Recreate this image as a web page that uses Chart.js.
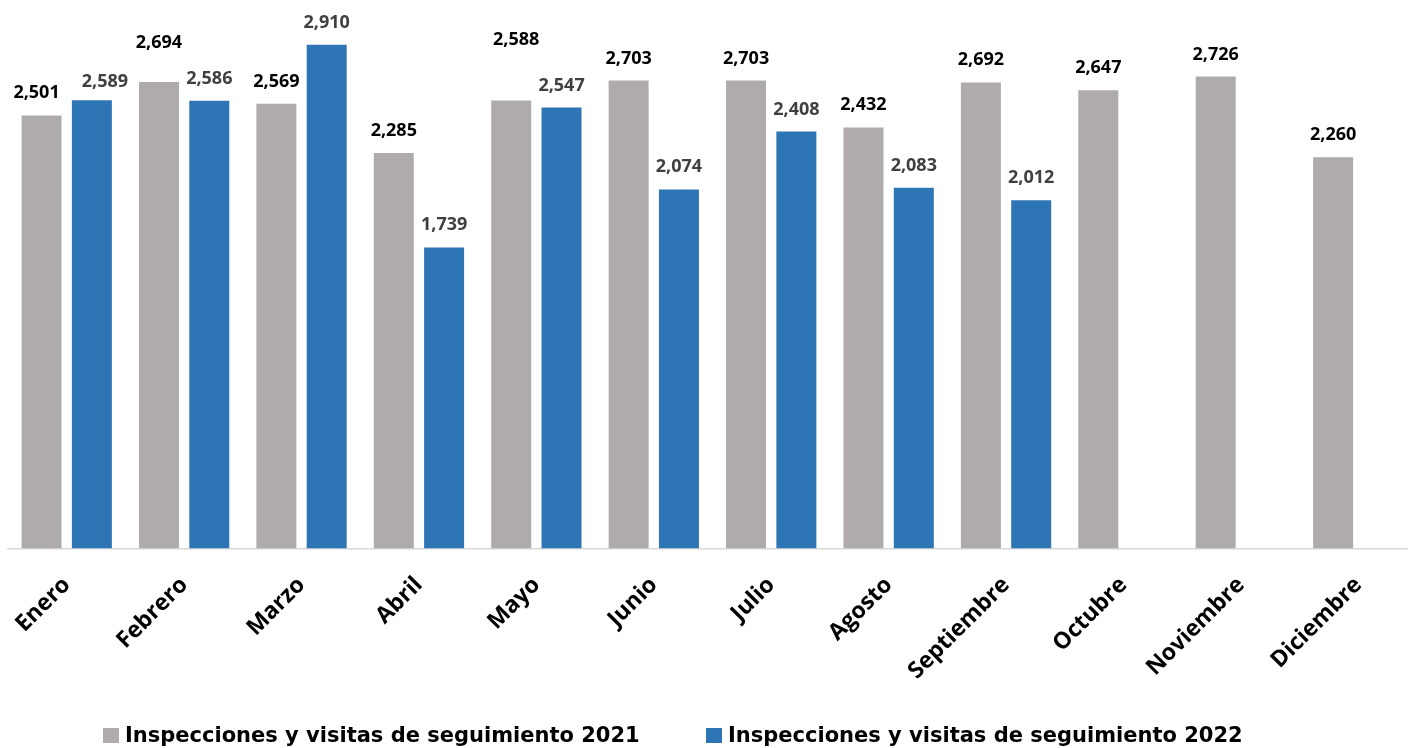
<!DOCTYPE html>
<html lang="es">
<head>
<meta charset="utf-8">
<title>Inspecciones y visitas de seguimiento</title>
<script src="https://cdn.jsdelivr.net/npm/chart.js@4.4.1/dist/chart.umd.min.js"></script>
<style>
  html, body { margin:0; padding:0; background:#fff; overflow:hidden; }
  #wrap { position:relative; width:1417px; height:748px; }
  #leyenda { position:absolute; top:0; left:0; font:bold 21px "DejaVu Sans", sans-serif; color:#000; white-space:nowrap; }
  #leyenda .item { position:absolute; top:721px; line-height:29px; }
  #leyenda i { display:inline-block; width:16px; height:15px; margin-right:6px; vertical-align:-1px; }
</style>
</head>
<body>
<div id="wrap">
  <canvas id="grafica"></canvas>
  <div id="leyenda"></div>
</div>
<script>
// datos
const meses = ['Enero','Febrero','Marzo','Abril','Mayo','Junio','Julio','Agosto','Septiembre','Octubre','Noviembre','Diciembre'];
const visitas2021 = [2501, 2694, 2569, 2285, 2588, 2703, 2703, 2432, 2692, 2647, 2726, 2260];
const visitas2022 = [2589, 2586, 2910, 1739, 2547, 2074, 2408, 2083, 2012, null, null, null];
const series = ['Inspecciones y visitas de seguimiento 2021', 'Inspecciones y visitas de seguimiento 2022'];

// ajustes de algunas etiquetas (serie-mes: dx, dy) como en el original
const ajusteEtiqueta = { '0-0':[-5,0], '1-0':[13,-3.5], '0-1':[0,17.5], '0-4':[5,38.5] };
const colorEtiqueta = ['#000000', '#404040'];
const xLeyenda = [103, 706];

const etiquetas = {
  id:'etiquetas',
  afterDatasetsDraw(chart){
    const ctx = chart.ctx;
    ctx.save();
    ctx.font = 'bold 18px "Open Sans", sans-serif';
    ctx.textAlign = 'center';
    ctx.textBaseline = 'alphabetic';
    chart.data.datasets.forEach((ds, i) => {
      ctx.fillStyle = colorEtiqueta[i];
      chart.getDatasetMeta(i).data.forEach((bar, j) => {
        const v = ds.data[j];
        if(v == null) return;
        const a = ajusteEtiqueta[i + '-' + j] || [0,0];
        ctx.fillText(v.toLocaleString('en-US'), bar.x + a[0], bar.y - 17 - a[1]);
      });
    });
    ctx.restore();
  }
};

const chart = new Chart(document.getElementById('grafica').getContext('2d'), {
  type:'bar',
  data:{ labels: meses, datasets:[
    { label: series[0], data: visitas2021, backgroundColor:'#AFABAB', categoryPercentage:.857, barPercentage:.795 },
    { label: series[1], data: visitas2022, backgroundColor:'#2E75B6', categoryPercentage:.857, barPercentage:.795 }
  ]},
  options:{
    responsive:true, maintainAspectRatio:false, animation:false,
    layout:{ padding:{ left:8, right:0, top:0, bottom:0 } },
    plugins:{ legend:{ display:false }, tooltip:{ enabled:false } },
    scales:{
      x:{
        grid:{ display:false },
        border:{ display:true, color:'#D9D9D9', width:1.5 },
        ticks:{ color:'#000', font:{ family:'"Open Sans"', weight:'bold', size:23 }, minRotation:45, maxRotation:45, padding:15 },
        afterFit: s => { s.height = 199.5; }
      },
      y:{ display:false, min:0, max:3168 }
    }
  },
  plugins:[etiquetas]
});

// leyenda abajo
document.getElementById('leyenda').innerHTML = chart.data.datasets.map((ds, i) =>
  `<span class="item" style="left:${xLeyenda[i]}px"><i style="background:${ds.backgroundColor}"></i>${ds.label}</span>`).join('');
</script>
</body>
</html>
